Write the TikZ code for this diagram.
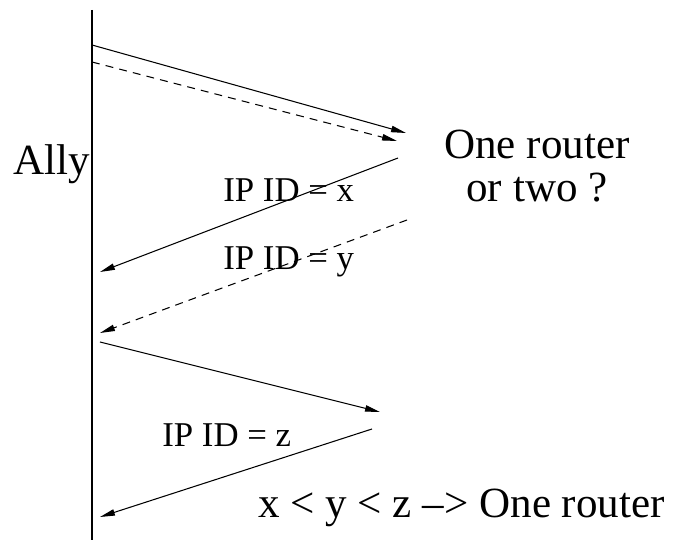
\documentclass[tikz,border=0pt]{standalone}
\usepackage{fontspec}
\setmainfont{Liberation Serif}
\usetikzlibrary{arrows.meta}

\tikzset{
  msg/.style={line width=0.6pt, -{Triangle[length=8.5pt,width=3.6pt]}},
  msgdash/.style={msg, dash pattern=on 4.5pt off 3.5pt},
  bigtxt/.style={font=\fontsize{24.5}{25}\selectfont, inner sep=0pt},
  idtxt/.style={font=\fontsize{19.8}{22}\selectfont, inner sep=0pt}
}

\begin{document}
\begin{tikzpicture}[x=0.02cm, y=-0.02cm]
  \useasboundingbox (0,0) rectangle (677,540);

  % lifeline of the prober
  \coordinate (top) at (92,10);
  \coordinate (bot) at (92,540);
  \draw[line width=1.1pt] (top) -- (bot);
  \node[bigtxt, anchor=base west] (ally) at (13,175) {Ally};

  % end points of the probes and replies
  \coordinate (s1) at (92,45);   \coordinate (e1) at (406,133);
  \coordinate (s2) at (92,62);   \coordinate (e2) at (397,141);
  \coordinate (s3) at (398,158); \coordinate (e3) at (100,272);
  \coordinate (s4) at (407,220); \coordinate (e4) at (100,333);
  \coordinate (s5) at (100,342); \coordinate (e5) at (380,412);
  \coordinate (s6) at (372,429); \coordinate (e6) at (100,517);

  % probes and replies
  \draw[msg] (s1) -- (e1);
  \draw[msgdash] (s2) -- (e2);
  \draw[msg] (s3) -- (e3);
  \draw[msgdash] (s4) -- (e4);
  \draw[msg] (s5) -- (e5);
  \draw[msg] (s6) -- (e6);

  % labels
  \node[idtxt, anchor=base west] (idx) at (223,202) {IP ID = x};
  \node[idtxt, anchor=base west] (idy) at (223,270) {IP ID = y};
  \node[idtxt, anchor=base west] (idz) at (162,447) {IP ID = z};
  \node[bigtxt, align=center, anchor=base] (quest) at (537,202) {One router\\or two ?};
  \node[bigtxt, anchor=base west] (concl) at (258,518) {x < y < z \textendash> One router};
\end{tikzpicture}
\end{document}
